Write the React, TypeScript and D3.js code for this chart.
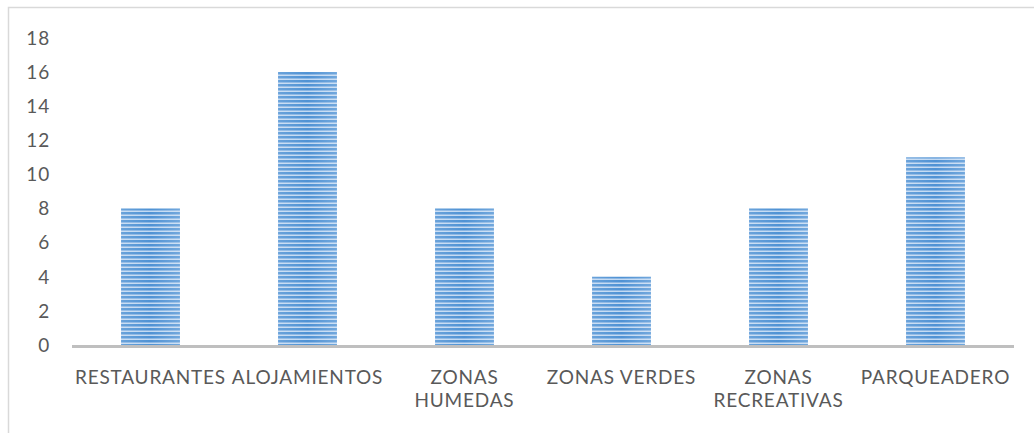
import React, { useMemo } from 'react';
import { scaleBand, scaleLinear } from 'd3';

const categories = ['RESTAURANTES', 'ALOJAMIENTOS', 'ZONAS HUMEDAS', 'ZONAS VERDES', 'ZONAS RECREATIVAS', 'PARQUEADERO'];
const values = [8, 16, 8, 4, 8, 11];
const yTicks = [0, 2, 4, 6, 8, 10, 12, 14, 16, 18];

const W = 1034;
const H = 433;
const margin = { top: 37.9, right: 20, bottom: 88, left: 72 };
const FONT = 'Lato, sans-serif';
const FS = 19;
const LS = 0.8;

// wrap a label into lines that fit the band
function wrap(label: string, maxW: number): string[] {
  const ctx = document.createElement('canvas').getContext('2d')!;
  ctx.font = `${FS}px ${FONT}`;
  (ctx as any).letterSpacing = `${LS}px`;
  const words = label.split(' ');
  const lines: string[] = [];
  let cur = '';
  for (const w of words) {
    const test = cur ? cur + ' ' + w : w;
    if (cur && ctx.measureText(test).width > maxW) {
      lines.push(cur);
      cur = w;
    } else cur = test;
  }
  if (cur) lines.push(cur);
  return lines;
}

export default function App() {
  const x = useMemo(
    () => scaleBand<string>().domain(categories).range([margin.left, W - margin.right]).paddingInner(0.625).paddingOuter(0.3125),
    []
  );
  const y = useMemo(() => scaleLinear().domain([0, 18]).range([H - margin.bottom, margin.top]), []);
  const base = y(0);

  return (
    <div style={{ position: 'fixed', left: 0, top: 0, width: W, height: H, background: '#fff' }}>
      <svg width={W} height={H} style={{ display: 'block' }}>
        <defs>
          <pattern id="stripes" width="8" height="4" patternUnits="userSpaceOnUse">
            <rect width="8" height="4" fill="#4f92d4" />
            <rect y="2.5" width="8" height="1.5" fill="#c2d9f2" />
          </pattern>
          <linearGradient id="edge" x1="0" x2="1" y1="0" y2="0">
            <stop offset="0" stopColor="#fff" stopOpacity="0.15" />
            <stop offset="0.5" stopColor="#fff" stopOpacity="0" />
            <stop offset="1" stopColor="#fff" stopOpacity="0.2" />
          </linearGradient>
        </defs>

        {/* chart frame */}
        <rect x={8.5} y={7.5} width={W + 10} height={H + 10} fill="none" stroke="#d9d9d9" strokeWidth={1.5} />

        {/* y tick labels */}
        {yTicks.map(t => (
          <text key={t} x={50} y={y(t)} dy="0.36em" textAnchor="end" fontFamily={FONT} fontSize={FS} letterSpacing={LS} fill="#595959">
            {t}
          </text>
        ))}

        {/* bars */}
        {categories.map((c, i) => (
          <g key={c}>
            <rect x={x(c)} y={y(values[i])} width={x.bandwidth()} height={base - y(values[i])} fill="url(#stripes)" />
            <rect x={x(c)} y={y(values[i])} width={x.bandwidth()} height={base - y(values[i])} fill="url(#edge)" />
          </g>
        ))}

        {/* x axis line */}
        <line x1={margin.left} x2={W - margin.right} y1={base + 1.5} y2={base + 1.5} stroke="#bfbfbf" strokeWidth={3} />

        {/* category labels */}
        {categories.map(c => {
          const lines = wrap(c, x.step());
          const cx = (x(c) ?? 0) + x.bandwidth() / 2;
          return (
            <text key={c} textAnchor="middle" fontFamily={FONT} fontSize={FS} letterSpacing={LS} fill="#595959">
              {lines.map((l, j) => (
                <tspan key={j} x={cx} y={base + 39 + j * 23}>
                  {l}
                </tspan>
              ))}
            </text>
          );
        })}
      </svg>
    </div>
  );
}
